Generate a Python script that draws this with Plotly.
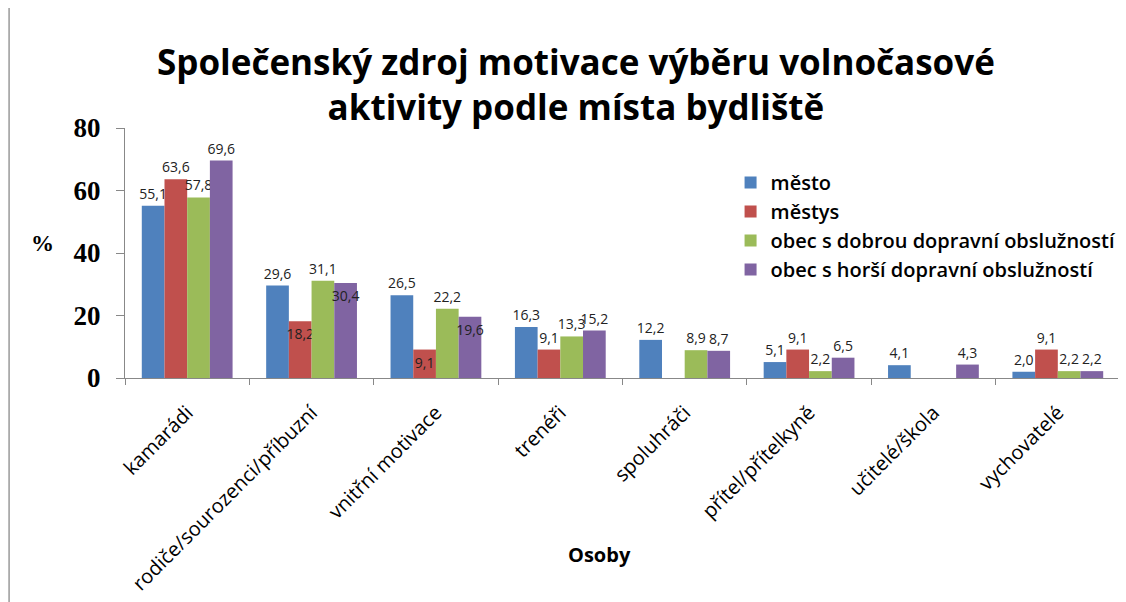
import plotly.graph_objects as go

categories = ["kamarádi", "rodiče/sourozenci/příbuzní", "vnitřní motivace", "trenéři",
              "spoluhráči", "přítel/přítelkyně", "učitelé/škola", "vychovatelé"]

mesto = [55.1, 29.6, 26.5, 16.3, 12.2, 5.1, 4.1, 2.0]
mestys = [63.6, 18.2, 9.1, 9.1, None, 9.1, None, 9.1]
obec_dobra = [57.8, 31.1, 22.2, 13.3, 8.9, 2.2, None, 2.2]
obec_horsi = [69.6, 30.4, 19.6, 15.2, 8.7, 6.5, 4.3, 2.2]

# where the original chart put each data label (some sit just inside the bar top)
out, ins = "outside", "inside"
label_pos = {
    "město": [out] * 8,
    "městys": [out, ins, ins, out, out, out, out, out],
    "obec s dobrou dopravní obslužností": [out] * 8,
    "obec s horší dopravní obslužností": [out, ins, ins, out, out, out, out, out],
}

series = [
    ("město", mesto, "#4F81BD"),
    ("městys", mestys, "#C0504D"),
    ("obec s dobrou dopravní obslužností", obec_dobra, "#9BBB59"),
    ("obec s horší dopravní obslužností", obec_horsi, "#8064A2"),
]

font = "Open Sans"
serif = "Liberation Serif"

fig = go.Figure()
for name, vals, color in series:
    fig.add_trace(go.Bar(
        x=categories, y=vals, name=name,
        marker=dict(color=color, line=dict(width=0)),
        text=vals, texttemplate="%{y:.1f}", textposition=label_pos[name],
        textangle=0, insidetextanchor="end",
        textfont=dict(size=14, color="#222", family=font),
        insidetextfont=dict(size=14, color="#222", family=font),
        outsidetextfont=dict(size=14, color="#222", family=font),
        constraintext="none", cliponaxis=False,
    ))

# page body has an 8px margin, so the figure is a bit smaller than the window
fig.update_layout(
    width=1118, height=594,
    barmode="group", bargap=0.27, bargroupgap=0,
    separators=", ",
    plot_bgcolor="white", paper_bgcolor="white",
    margin=dict(l=117, r=5, t=120, b=224),
    font=dict(family=font, color="black"),
    title=dict(
        text="<b>Společenský zdroj motivace výběru volnočasové<br>aktivity podle místa bydliště</b>",
        x=0.508, xanchor="center", y=0.888, yanchor="middle", yref="container",
        font=dict(size=35, family=font),
    ),
    legend=dict(
        x=0.608, y=0.86, xanchor="left", yanchor="top",
        font=dict(size=20, family=font, weight=600),
        bgcolor="rgba(0,0,0,0)", itemwidth=30, tracegroupgap=0,
    ),
    showlegend=True,
)

fig.update_xaxes(
    tickangle=-45, tickfont=dict(size=20, family=font), ticklabelstandoff=14,
    showline=True, linecolor="#888", linewidth=1,
    ticks="outside", tickson="boundaries", ticklen=6, tickcolor="#888",
    showgrid=False,
)
fig.update_yaxes(
    range=[0, 80], dtick=20, tickfont=dict(size=27, family=serif, weight="bold"),
    ticklabelstandoff=10,
    showline=True, linecolor="#888", linewidth=1,
    ticks="outside", ticklen=8, tickcolor="#888",
    showgrid=False, zeroline=False,
)

fig.add_annotation(text="<b>Osoby</b>", xref="paper", yref="paper", x=0.477, y=-0.766,
                   showarrow=False, font=dict(size=20, family=font))
fig.add_annotation(text="<b>%</b>", xref="paper", yref="paper", x=-0.096, y=0.54,
                   showarrow=False, font=dict(size=23, family=serif))

# outer frame line on the left like the original screenshot
fig.add_shape(type="line", xref="paper", yref="paper", x0=-0.1165, x1=-0.1165, y0=-0.9, y1=1.5,
              line=dict(color="#999", width=1.5))

fig.write_html("out.html")
